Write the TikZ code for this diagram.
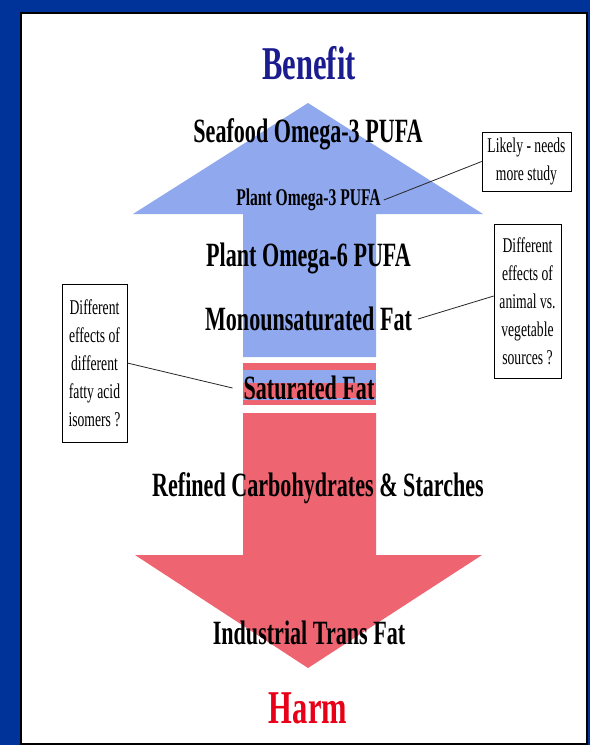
\documentclass[tikz,border=0pt]{standalone}
\usepackage{fontspec}
\setmainfont{Liberation Serif}
\usepackage{tikz}
\usetikzlibrary{positioning}

\definecolor{slideblue}{RGB}{0,51,153}
\definecolor{upblue}{RGB}{143,168,238}
\definecolor{downred}{RGB}{238,100,112}
\definecolor{navytext}{RGB}{28,28,145}
\definecolor{harmred}{RGB}{232,0,24}

\tikzset{
  lbl/.style={font=\bfseries\fontsize{34}{36}\selectfont, xscale=0.65, inner sep=0pt},
  biglbl/.style={font=\bfseries\fontsize{47}{50}\selectfont, xscale=0.65, inner sep=0pt},
  note/.style={draw, line width=0.9pt, align=center, inner sep=0pt,
    font=\fontsize{21}{28}\selectfont, xscale=0.65},
  pointer/.style={line width=0.8pt, black!85}
}

\begin{document}
\begin{tikzpicture}[x=1pt,y=-1pt]
        \useasboundingbox (0,0) rectangle (590,745);
        % Slide background and panel
        \fill[slideblue] (0,0) rectangle (590,745);
        \draw[fill=white, line width=2pt] (21,13) rectangle (587,744);
        % Up arrow
        \fill[upblue] (243,357) -- (243,214) -- (133,214) -- (308,103)
            -- (483,214) -- (376,214) -- (376,357) -- cycle;
        % Striped band
        \fill[downred] (243,363) rectangle (376,370);
        \fill[upblue] (243,370) rectangle (376,383);
        \fill[downred] (243,383) rectangle (376,398);
        \fill[upblue] (243,398) rectangle (376,400);
        \fill[downred] (243,400) rectangle (376,405);
        % Down arrow
        \fill[downred] (243,413) -- (243,555) -- (135,555) -- (308,668)
            -- (482,555) -- (376,555) -- (376,413) -- cycle;
        % Labels on the arrows
        \node[biglbl, text=navytext] (benefit) at (309,63) {Benefit};
        \node[lbl] (sea) at (308,134) {Seafood Omega-3 PUFA};
        \node[lbl, font=\bfseries\fontsize{24}{26}\selectfont] (p3) at (308.5,200) {Plant Omega-3 PUFA};
        \node[lbl] (p6) at (308.5,258) {Plant Omega-6 PUFA};
        \node[lbl] (mono) at (308.5,319) {Monounsaturated Fat};
        \node[lbl] (sat) at (309,388) {Saturated Fat};
        \node[lbl] (carb) at (318,488) {Refined Carbohydrates \& Starches};
        \node[lbl] (trans) at (309,633) {Industrial Trans Fat};
        \node[biglbl, text=harmred] (harm) at (308,708) {Harm};
        % Side notes
        \node[note, minimum width=137pt, minimum height=59pt] (likely) at (526.5,161.5)
            {Likely - needs\\more study};
        \node[note, minimum width=103pt, minimum height=154pt] (animal) at (527.5,301)
            {Different\\effects of\\animal vs.\\vegetable\\sources ?};
        \node[note, minimum width=100pt, minimum height=158pt] (isomer) at (94.5,363)
            {Different\\effects of\\different\\fatty acid\\isomers ?};
        % Pointers
        \draw[pointer] (likely.west) -- ([xshift=3pt]p3.east);
        \draw[pointer] ([yshift=5pt]animal.west) -- ([xshift=6pt]mono.east);
        \draw[pointer] (isomer.east) -- ([xshift=-11pt]sat.west);
    \end{tikzpicture}
\end{document}
